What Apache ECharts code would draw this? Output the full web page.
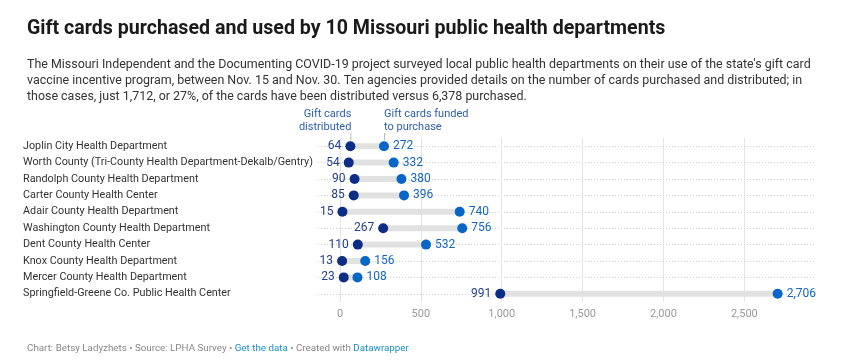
<!DOCTYPE html>
<html>
<head>
<meta charset="utf-8">
<script src="https://cdn.jsdelivr.net/npm/echarts@6/dist/echarts.min.js"></script>
<style>
html,body{margin:0;padding:0;background:#fff;}
#chart{width:852px;height:362px;}
</style>
</head>
<body>
<div id="chart"></div>
<script>
const categories = [
  'Joplin City Health Department',
  'Worth County (Tri-County Health Department-Dekalb/Gentry)',
  'Randolph County Health Department',
  'Carter County Health Center',
  'Adair County Health Department',
  'Washington County Health Department',
  'Dent County Health Center',
  'Knox County Health Department',
  'Mercer County Health Department',
  'Springfield-Greene Co. Public Health Center'
];
const distributed = [64, 54, 90, 85, 15, 267, 110, 13, 23, 991];
const purchased = [272, 332, 380, 396, 740, 756, 532, 156, 108, 2706];
const tickValues = [0, 500, 1000, 1500, 2000, 2500];

const FONT = 'Roboto, "Noto Sans", sans-serif';
const DARK = '#0b2d85';
const LIGHT = '#0866c6';

const chart = echarts.init(document.getElementById('chart'), null, {renderer: 'canvas'});

const fmt = v => v.toLocaleString('en-US');

const option = {
  animation: false,
  textStyle: {fontFamily: FONT},
  title: [
    {
      text: 'Gift cards purchased and used by 10 Missouri public health departments',
      left: 22, top: 14,
      textStyle: {fontFamily: FONT, fontSize: 19.6, fontWeight: 'bold', color: '#1a1a1a'}
    },
    {
      text: "The Missouri Independent and the Documenting COVID-19 project surveyed local public health departments on their use of the state's gift card\nvaccine incentive program, between Nov. 15 and Nov. 30. Ten agencies provided details on the number of cards purchased and distributed; in\nthose cases, just 1,712, or 27%, of the cards have been distributed versus 6,378 purchased.",
      left: 22, top: 52,
      textStyle: {fontFamily: FONT, fontSize: 12.45, fontWeight: 'normal', color: '#333', lineHeight: 16}
    },
    {
      text: '{g|Chart: Betsy Ladyzhets • Source: LPHA Survey • }{l|Get the data}{g| • Created with }{l|Datawrapper}',
      left: 22, top: 339,
      textStyle: {
        fontFamily: FONT, fontSize: 9.8, fontWeight: 'normal',
        rich: {
          g: {fontFamily: FONT, fontSize: 9.8, color: '#888'},
          l: {fontFamily: FONT, fontSize: 9.8, color: '#1a8fc4'}
        }
      }
    }
  ],
  grid: {left: 318, right: 37, top: 138, bottom: 60, containLabel: false},
  xAxis: {
    type: 'value',
    min: -136, max: 2937,
    axisLine: {show: false},
    axisTick: {show: false},
    splitLine: {show: false},
    axisLabel: {
      customValues: tickValues,
      formatter: v => fmt(v),
      color: '#999', fontSize: 11, fontFamily: FONT, margin: 7
    }
  },
  yAxis: {
    type: 'category',
    data: categories,
    inverse: true,
    axisLine: {show: false},
    axisTick: {show: false},
    splitLine: {show: false},
    axisLabel: {
      align: 'left', margin: 295, color: '#333', fontSize: 10.8, fontFamily: FONT
    }
  },
  series: [
    {
      type: 'custom',
      name: 'range',
      silent: true,
      z: 2,
      data: categories.map((c, i) => [distributed[i], purchased[i], c]),
      encode: {x: [0, 1], y: 2},
      renderItem: function (params, api) {
        const a = api.coord([api.value(0), api.value(2)]);
        const b = api.coord([api.value(1), api.value(2)]);
        return {
          type: 'line',
          shape: {x1: a[0], y1: a[1], x2: b[0], y2: b[1]},
          style: {stroke: '#e1e1e1', lineWidth: 6}
        };
      }
    },
    {
      type: 'scatter',
      name: 'Gift cards distributed',
      symbolSize: 10,
      z: 4,
      itemStyle: {color: DARK, opacity: 1},
      data: categories.map((c, i) => [distributed[i], c]),
      label: {
        show: true, position: 'left', distance: 4,
        formatter: p => fmt(p.value[0]),
        color: '#23408e', fontSize: 12, fontFamily: FONT
      },
      markLine: {
        silent: true,
        symbol: 'none',
        z: 1,
        label: {show: false},
        lineStyle: {color: '#d0d0d0', type: [1, 2], width: 1},
        data: categories.map(c => ({yAxis: c}))
      }
    },
    {
      type: 'scatter',
      name: 'Gift cards funded to purchase',
      symbolSize: 10,
      z: 4,
      itemStyle: {color: LIGHT, opacity: 1},
      data: categories.map((c, i) => [purchased[i], c]),
      label: {
        show: true, position: 'right', distance: 4,
        formatter: p => fmt(p.value[0]),
        color: '#1565c0', fontSize: 12, fontFamily: FONT
      },
      markLine: {
        silent: true,
        symbol: 'none',
        z: 1,
        label: {show: false},
        lineStyle: {color: '#e4e4e4', type: 'solid', width: 1},
        data: tickValues.map(v => ({xAxis: v}))
      }
    }
  ]
};

chart.setOption(option);

// annotations attached to the first row's dots
const pD = chart.convertToPixel({gridIndex: 0}, [distributed[0], categories[0]]);
const pP = chart.convertToPixel({gridIndex: 0}, [purchased[0], categories[0]]);
const annColor = '#2b5fae';
chart.setOption({
  graphic: [
    {type: 'text', x: pD[0] + 1, y: 108, style: {text: 'Gift cards\ndistributed', fill: annColor, font: '11px ' + FONT, textAlign: 'right', lineHeight: 13}},
    {type: 'line', shape: {x1: pD[0] + 0.5, y1: 133, x2: pD[0] + 0.5, y2: 140}, style: {stroke: '#bbb', lineWidth: 1}},
    {type: 'text', x: pP[0], y: 108, style: {text: 'Gift cards funded\nto purchase', fill: annColor, font: '11px ' + FONT, textAlign: 'left', lineHeight: 13}},
    {type: 'line', shape: {x1: pP[0] + 0.5, y1: 133, x2: pP[0] + 0.5, y2: 140}, style: {stroke: '#bbb', lineWidth: 1}}
  ]
});
</script>
</body>
</html>
